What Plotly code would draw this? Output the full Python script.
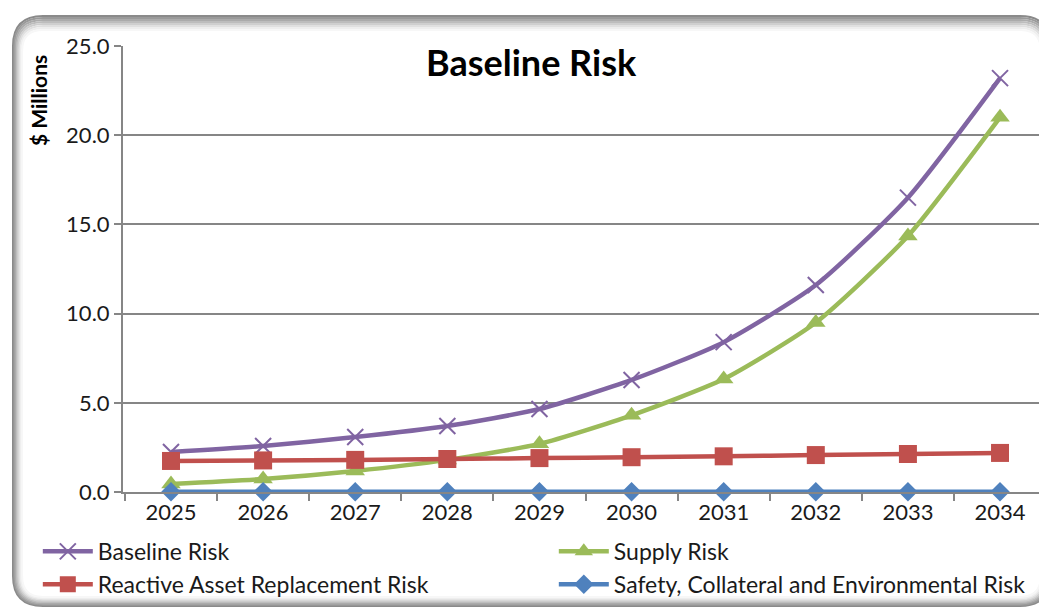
import plotly.graph_objects as go

years = ["2025", "2026", "2027", "2028", "2029", "2030", "2031", "2032", "2033", "2034"]
baseline_risk = [2.24, 2.58, 3.08, 3.70, 4.65, 6.28, 8.40, 11.60, 16.50, 23.20]
supply_risk = [0.45, 0.73, 1.18, 1.80, 2.70, 4.30, 6.33, 9.50, 14.35, 21.00]
reactive_risk = [1.74, 1.77, 1.80, 1.85, 1.90, 1.95, 2.00, 2.07, 2.13, 2.19]
safety_risk = [0.02, 0.02, 0.02, 0.02, 0.02, 0.02, 0.02, 0.02, 0.02, 0.02]

W, H = 1039, 608
L, R, T, B = 123, 0, 46, 116
PW, PH = W - L - R, H - T - B
FONT = "Lato"

xi = list(range(len(years)))

def px2paper(x, y):
    return (x - L) / PW, (H - B - y) / PH

fig = go.Figure()

series = [
    ("Baseline Risk", baseline_risk, "#8064A2", dict(symbol="x-thin", size=16, line=dict(width=2, color="#8064A2"))),
    ("Supply Risk", supply_risk, "#9BBB59", dict(symbol="triangle-up", size=17)),
    ("Reactive Asset Replacement Risk", reactive_risk, "#C0504D", dict(symbol="square", size=18)),
    ("Safety, Collateral and Environmental Risk", safety_risk, "#4F81BD", dict(symbol="diamond", size=15)),
]
for name, vals, col, mk in series:
    mk = dict(mk)
    mk["color"] = col
    fig.add_trace(go.Scatter(
        x=xi, y=vals, name=name, mode="lines+markers",
        line=dict(color=col, width=4.5, shape="spline", smoothing=0.6),
        marker=mk, cliponaxis=False,
    ))

def rounded_path(x0, y0, x1, y1, r):
    def P(x, y):
        a, b = px2paper(x, y)
        return f"{a:.5f},{b:.5f}"
    return (f"M {P(x0+r, y0)} L {P(x1-r, y0)} Q {P(x1, y0)} {P(x1, y0+r)} "
            f"L {P(x1, y1-r)} Q {P(x1, y1)} {P(x1-r, y1)} L {P(x0+r, y1)} "
            f"Q {P(x0, y1)} {P(x0, y1-r)} L {P(x0, y0+r)} Q {P(x0, y0)} {P(x0+r, y0)} Z")

shapes = []
frame_cols = ["#8a8a8a", "#9a9a9a", "#ababab", "#bdbdbd", "#cfcfcf", "#e0e0e0", "#eeeeee", "#f7f7f7"]
for i, col in enumerate(frame_cols):
    off = i * 1.3
    shapes.append(dict(type="path", xref="paper", yref="paper",
                       path=rounded_path(13 + off, 16 + i * 2.0, 1050 - off, 606 - off, 30 - off),
                       line=dict(color=col, width=2), fillcolor="rgba(0,0,0,0)", layer="below"))

fig.update_layout(
    width=W, height=H,
    margin=dict(l=L, r=R, t=T, b=B, autoexpand=False),
    paper_bgcolor="white", plot_bgcolor="white",
    font=dict(family=FONT, color="#1a1a1a"),
    shapes=shapes,
    showlegend=True,
    legend=dict(
        orientation="h", x=-0.093, xanchor="left", y=-0.085, yanchor="top",
        entrywidth=451, entrywidthmode="pixels",
        font=dict(size=23, family=FONT, color="#1a1a1a"),
        itemwidth=50, tracegroupgap=0, bgcolor="rgba(0,0,0,0)",
    ),
    xaxis=dict(
        range=[-0.521, 9.423], tickmode="array", tickvals=xi, ticktext=years,
        ticks="", showgrid=False, zeroline=False,
        showline=True, linecolor="#868686", linewidth=2,
        tickfont=dict(size=22, family=FONT, color="#1a1a1a"),
        minor=dict(tickmode="linear", tick0=-0.5, dtick=1, ticks="outside", ticklen=7,
                   tickcolor="#868686", tickwidth=2, showgrid=False),
    ),
    yaxis=dict(
        range=[0, 25], tickmode="linear", tick0=0, dtick=5, tickformat=".1f",
        ticks="outside", ticklen=7, tickcolor="#868686", tickwidth=2,
        showgrid=True, gridcolor="#868686", gridwidth=2, zeroline=False,
        showline=True, linecolor="#868686", linewidth=2,
        tickfont=dict(size=22, family=FONT, color="#1a1a1a"),
    ),
    annotations=[
        dict(text="<b>Baseline Risk</b>", xref="paper", yref="paper",
             x=px2paper(531, 0)[0], y=px2paper(0, 62)[1], xanchor="center", yanchor="middle",
             showarrow=False, bgcolor="white", borderpad=3,
             font=dict(size=36, family=FONT, color="#000000")),
        dict(text="<b>$ Millions</b>", xref="paper", yref="paper",
             x=px2paper(38, 0)[0], y=px2paper(0, 101)[1], xanchor="center", yanchor="middle",
             textangle=-90, showarrow=False,
             font=dict(size=21, family=FONT, color="#000000")),
    ],
)

fig.write_html("out.html", config={"displayModeBar": False},
               post_script="document.body.style.margin='0';document.body.style.overflow='hidden';")
